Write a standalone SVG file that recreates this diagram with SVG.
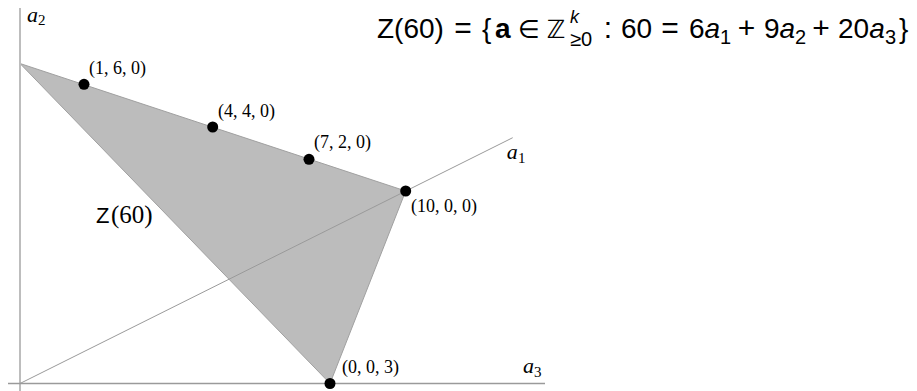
<svg xmlns="http://www.w3.org/2000/svg" width="917" height="391" viewBox="0 0 917 391">
<style>
.ax{fill:none}
.dot{fill:#000}
.lbl{font-family:"Liberation Serif","DejaVu Serif",serif;font-size:18px;fill:#000}
.axl{font-family:"Liberation Serif","DejaVu Serif",serif;font-style:italic;font-size:22px;fill:#000}
.sub{font-family:"Liberation Serif","DejaVu Serif",serif;font-size:15px;fill:#000}
.t{font-family:"Liberation Sans","DejaVu Sans",sans-serif;font-size:28px;fill:#000}
.op{font-family:"Liberation Sans","DejaVu Sans",sans-serif;font-size:30px;fill:#000;text-anchor:middle}
.ts{font-family:"Liberation Sans","DejaVu Sans",sans-serif;font-size:20px;fill:#000}
.tss{font-family:"Liberation Sans","DejaVu Sans",sans-serif;font-size:18px;fill:#000}
</style>
<rect width="917" height="391" fill="#fff"/>
<g id="region">
<polygon points="20,63.5 405.7,191 330,383.5" fill="#bcbcbc" stroke="#a0a0a0" stroke-width="1"/>
</g>
<g id="axes">
<line class="ax" x1="20" y1="8" x2="20" y2="391" stroke-width="2" stroke="#bdbdbd"/>
<line class="ax" x1="8" y1="383.5" x2="545" y2="383.5" stroke-width="1.5" stroke="#9a9a9a"/>
<line class="ax" x1="20" y1="383.5" x2="512.7" y2="137.7" stroke-width="1" stroke="#9a9a9a"/>
</g>
<g id="axis-labels">
<text class="axl" x="27" y="21.5">a</text><text class="sub" x="38" y="25">2</text>
<text class="axl" x="506.7" y="159">a</text><text class="sub" x="518" y="163">1</text>
<text class="axl" x="523" y="373">a</text><text class="sub" x="534" y="377">3</text>
</g>
<g id="p160"><circle class="dot" cx="84" cy="84.3" r="5.5"/><text class="lbl" x="89" y="74">(1, 6, 0)</text></g>
<g id="p440"><circle class="dot" cx="212.7" cy="127" r="5.5"/><text class="lbl" x="218" y="117">(4, 4, 0)</text></g>
<g id="p720"><circle class="dot" cx="309" cy="159.3" r="5.5"/><text class="lbl" x="314" y="148">(7, 2, 0)</text></g>
<g id="p1000"><circle class="dot" cx="405.7" cy="191" r="5.5"/><text class="lbl" x="411" y="211.7">(10, 0, 0)</text></g>
<g id="p003"><circle class="dot" cx="330" cy="383.5" r="5.5"/><text class="lbl" x="342" y="373">(0, 0, 3)</text></g>
<g id="z60-label">
<text x="96" y="222.7" style="font-family:'Liberation Sans','DejaVu Sans',sans-serif;font-size:22px">Z</text>
<text x="111" y="222.7" style="font-family:'Liberation Serif','DejaVu Serif',serif;font-size:25px">(60)</text>
</g>
<g id="title">
<text class="t" x="377" y="38">Z(60)</text>
<text class="op" x="463" y="38">=</text>
<text class="t" x="482" y="38">{</text>
<text class="t" x="495" y="38" font-weight="bold">a</text>
<text class="op" x="529" y="38" style="font-size:25px">∈</text>
<text x="556" y="38" text-anchor="middle" style="font-family:'DejaVu Sans',sans-serif;font-size:25px">ℤ</text>
<text class="tss" x="570" y="23" font-style="italic">k</text>
<text class="ts" x="570" y="46">≥0</text>
<text class="op" x="608" y="38">:</text>
<text class="t" x="621" y="38">60</text>
<text class="op" x="670" y="38">=</text>
<text class="t" x="689" y="38">6<tspan font-style="italic">a</tspan></text>
<text class="ts" x="720" y="44">1</text>
<text class="op" x="746.5" y="38">+</text>
<text class="t" x="764" y="38">9<tspan font-style="italic">a</tspan></text>
<text class="ts" x="795" y="44">2</text>
<text class="op" x="821" y="38">+</text>
<text class="t" x="838" y="38">20<tspan font-style="italic">a</tspan></text>
<text class="ts" x="885" y="44">3</text>
<text class="t" x="899" y="38">}</text>
</g>
</svg>
